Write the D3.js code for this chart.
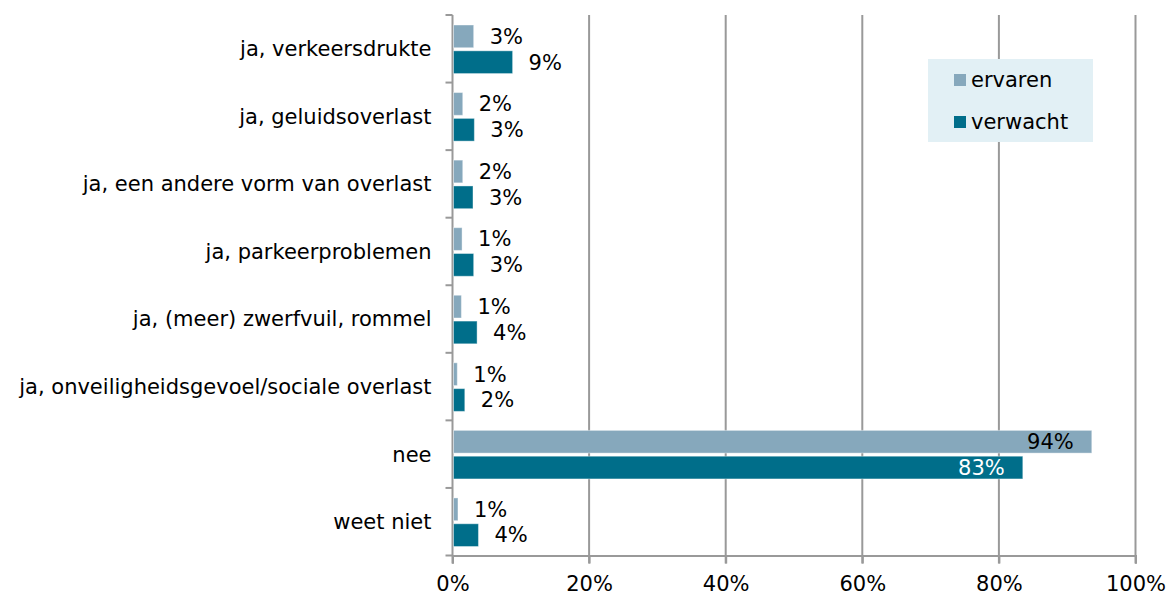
<!DOCTYPE html>
<html><head><meta charset="utf-8">
<script src="https://cdn.jsdelivr.net/npm/d3@7"></script>
<style>body{margin:0;background:#fff;}svg{display:block;font-family:"DejaVu Sans",Verdana,sans-serif;}</style>
</head><body><svg id="c" width="1175" height="595"></svg>
<script>
const categories = ["ja, verkeersdrukte","ja, geluidsoverlast","ja, een andere vorm van overlast","ja, parkeerproblemen","ja, (meer) zwerfvuil, rommel","ja, onveiligheidsgevoel/sociale overlast","nee","weet niet"];
const ervaren = [3.1, 1.5, 1.5, 1.4, 1.3, 0.7, 93.6, 0.8];
const verwacht = [8.8, 3.2, 3.0, 3.1, 3.6, 1.8, 83.5, 3.8];
const ervarenLabels = ["3%","2%","2%","1%","1%","1%","94%","1%"];
const verwachtLabels = ["9%","3%","3%","3%","4%","2%","83%","4%"];
const seriesNames = ["ervaren","verwacht"];
const xTicks = [0,20,40,60,80,100];

const FS = 21;
const colors = {ervaren:"#86a8bc", verwacht:"#006e8a"};
const svg = d3.select("#c");
const m = {l:452.5, r:1135.5, t:15, b:555.5};
const x = d3.scaleLinear().domain([0,100]).range([m.l, m.r]);
const y = d3.scaleBand().domain(categories).range([m.t, m.b]);
const inner = d3.scaleBand().domain(seriesNames).range([10, y.bandwidth()-9]).paddingInner(0.12);
const grid = "#999999";

// gridlines
svg.append("g").selectAll("line").data(xTicks.filter(d=>d>0)).join("line")
  .attr("x1",d=>x(d)).attr("x2",d=>x(d)).attr("y1",m.t).attr("y2",m.b+8)
  .attr("stroke",grid).attr("stroke-width",2);
// x axis
const xa = svg.append("g").attr("transform",`translate(0,${m.b})`)
  .call(d3.axisBottom(x).tickValues(xTicks).tickFormat(d=>d+"%").tickSize(8).tickPadding(13));
xa.select(".domain").attr("stroke",grid).attr("stroke-width",2);
xa.selectAll(".tick line").attr("stroke",grid).attr("stroke-width",2);
xa.selectAll("text").attr("font-size",FS).attr("fill","#000").attr("font-family","DejaVu Sans");
// y axis
svg.append("line").attr("x1",m.l).attr("x2",m.l).attr("y1",m.t).attr("y2",m.b+8).attr("stroke",grid).attr("stroke-width",2);
const bounds = categories.map((c)=>y(c)).concat([m.b]);
svg.append("g").selectAll("line").data(bounds).join("line")
  .attr("x1",m.l-7).attr("x2",m.l).attr("y1",d=>d).attr("y2",d=>d).attr("stroke",grid).attr("stroke-width",2);
svg.append("g").selectAll("text").data(categories).join("text")
  .attr("x",m.l-21).attr("y",d=>y(d)+y.bandwidth()/2).attr("dy","0.35em")
  .attr("text-anchor","end").attr("font-size",FS).attr("fill","#000").text(d=>d);

// bars
const data = [];
categories.forEach((c,i)=>{
  data.push({c, s:"ervaren", v:ervaren[i], lab:ervarenLabels[i]});
  data.push({c, s:"verwacht", v:verwacht[i], lab:verwachtLabels[i]});
});
svg.append("g").selectAll("rect").data(data).join("rect")
  .attr("x",x(0)+1).attr("y",d=>y(d.c)+inner(d.s))
  .attr("width",d=>x(d.v)-x(0)-1).attr("height",inner.bandwidth())
  .attr("fill",d=>colors[d.s]).attr("stroke","#ffffff").attr("stroke-opacity",0.4).attr("stroke-width",1);

svg.append("g").selectAll("text").data(data).join("text")
  .attr("x",d=> d.v>50 ? x(d.v)-18 : x(d.v)+16)
  .attr("text-anchor",d=> d.v>50 ? "end":"start")
  .attr("y",d=>y(d.c)+inner(d.s)+inner.bandwidth()/2).attr("dy","0.35em")
  .attr("font-size",FS)
  .attr("fill",d=> (d.v>50 && d.s==="verwacht") ? "#fff" : "#000")
  .text(d=>d.lab);

// legend
const lg = svg.append("g").attr("transform","translate(928,59)");
lg.append("rect").attr("width",165).attr("height",83).attr("fill","#e2f0f5");
seriesNames.forEach((s,i)=>{
  lg.append("rect").attr("x",26).attr("y",15+i*42).attr("width",12).attr("height",12).attr("fill",colors[s]);
  lg.append("text").attr("x",43).attr("y",21+i*42).attr("dy","0.35em").attr("font-size",FS).attr("fill","#000").text(s);
});
</script></body></html>
